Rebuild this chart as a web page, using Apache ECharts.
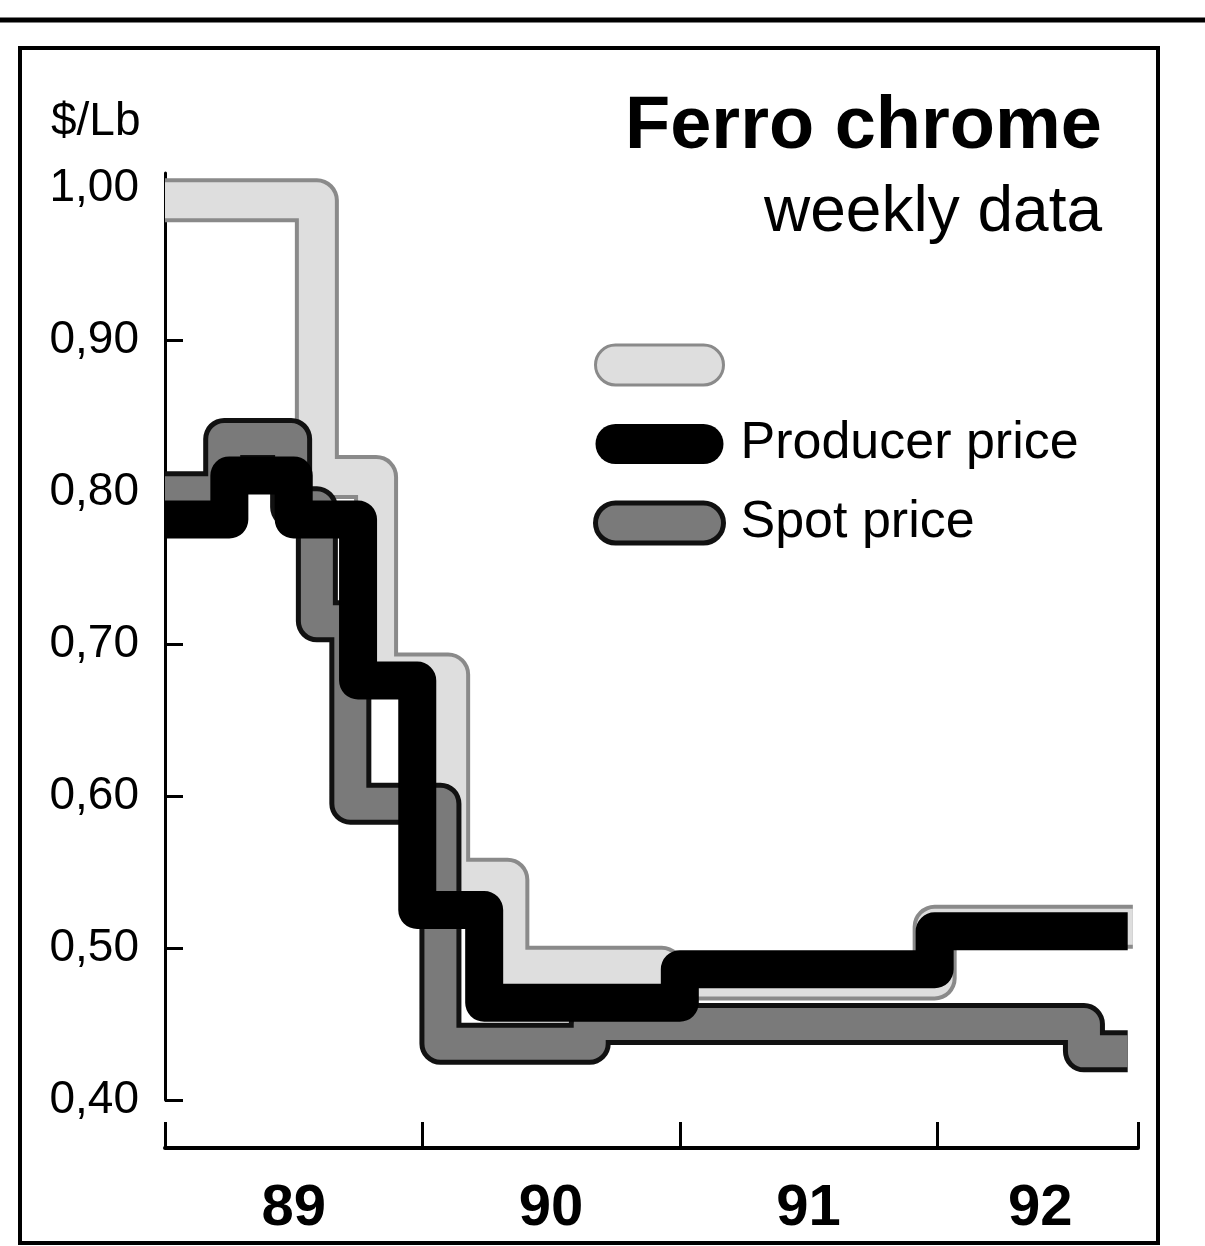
<!DOCTYPE html>
<html>
<head>
<meta charset="utf-8">
<script src="https://cdn.jsdelivr.net/npm/echarts@6/dist/echarts.min.js"></script>
<style>
  html, body { margin: 0; padding: 0; background: #fff; }
  #chart { width: 1205px; height: 1246px; }
</style>
</head>
<body>
<div id="chart"></div>
<script>
// axis ticks / labels
const yTicks = [0.40, 0.50, 0.60, 0.70, 0.80, 0.90, 1.00];
const yearTicks = [1989, 1990, 1991, 1992, 1992.78];
const yearLabels = ['89', '90', '91', '92'];
const yearLabelAt = [1989.5, 1990.5, 1991.5, 1992.4];

// producer price (step changes: start of period, $/Lb)
const producerX = [1989.00, 1989.25, 1989.50, 1989.75, 1989.98, 1990.24, 1991.00, 1991.99, 1992.74];
const producerY = [0.782, 0.811, 0.782, 0.676, 0.525, 0.464, 0.486, 0.511, 0.511];

// spot price
const spotX = [1989.00, 1989.23, 1989.49, 1989.59, 1989.72, 1990.07, 1990.65, 1992.57, 1992.74];
const spotY = [0.800, 0.835, 0.790, 0.715, 0.595, 0.437, 0.450, 0.432, 0.432];

// upper spot range (legend text lost in the original)
const rangeX = [1989.00, 1989.59, 1989.82, 1990.10, 1990.33, 1990.93, 1991.99, 1992.76];
const rangeY = [0.992, 0.810, 0.680, 0.545, 0.487, 0.480, 0.514, 0.514];

const zip = (xs, ys) => xs.map((x, i) => [x, ys[i]]);
const FONT = 'Liberation Sans, Arial, Helvetica, sans-serif';
const capsule = 'path://M20,0 H108 A20,20 0 0 1 108,40 H20 A20,20 0 0 1 20,0 Z';

function stepLine(name, data, color, width) {
  return {
    name: name,
    type: 'line',
    step: 'end',
    xAxisIndex: 0,
    yAxisIndex: 0,
    data: data,
    showSymbol: false,
    symbol: 'none',
    color: color,
    itemStyle: { color: color },
    lineStyle: { color: color, width: width, join: 'round', cap: 'butt' },
    emphasis: { disabled: true },
    silent: true
  };
}

const chart = echarts.init(document.getElementById('chart'));
const option = {
  animation: false,
  backgroundColor: '#fff',
  title: [
    { text: 'Ferro chrome', right: 98, top: 86,
      textStyle: { fontFamily: FONT, fontSize: 74, fontWeight: 'bold', color: '#000' } },
    { text: 'weekly data', right: 98, top: 176,
      textStyle: { fontFamily: FONT, fontSize: 64, fontWeight: 'normal', color: '#000' } },
    { text: '$/Lb', left: 46, top: 94,
      textStyle: { fontFamily: FONT, fontSize: 46, fontWeight: 'normal', color: '#000' } }
  ],
  legend: {
    orient: 'vertical',
    left: 588,
    top: 334,
    itemWidth: 128,
    itemHeight: 40,
    itemGap: 27,
    icon: capsule,
    selectedMode: false,
    textStyle: { fontFamily: FONT, fontSize: 52, color: '#000', padding: [0, 0, 0, 12] },
    data: [
      { name: ' ', itemStyle: { color: '#dedede', borderColor: '#8a8a8a', borderWidth: 3 } },
      { name: 'Producer price', itemStyle: { color: '#000' } },
      { name: 'Spot price', itemStyle: { color: '#7a7a7a', borderColor: '#111', borderWidth: 5 } }
    ]
  },
  grid: [
    { left: 165, right: 67, top: 173, bottom: 146 },
    { left: 165, right: 67, top: 1100, bottom: 98 }
  ],
  xAxis: [
    { gridIndex: 0, type: 'value', min: 1989, max: 1992.78, show: false },
    {
      gridIndex: 1, type: 'value', min: 1989, max: 1992.78, position: 'bottom',
      axisLine: { onZero: false, lineStyle: { color: '#000', width: 4 } },
      axisTick: { inside: true, length: 26, lineStyle: { color: '#000', width: 3 },
                  customValues: yearTicks },
      axisLabel: {
        customValues: yearLabelAt,
        margin: 32,
        fontFamily: FONT, fontSize: 58, fontWeight: 'bold', color: '#000',
        formatter: v => {
          const i = yearLabelAt.findIndex(p => Math.abs(p - v) < 1e-6);
          return i >= 0 ? yearLabels[i] : '';
        }
      },
      splitLine: { show: false }
    }
  ],
  yAxis: [
    {
      gridIndex: 0, type: 'value', min: 0.40, max: 1.01,
      axisLine: { show: true, onZero: false, lineStyle: { color: '#000', width: 3 } },
      axisTick: { show: true, inside: true, length: 18, lineStyle: { color: '#000', width: 3 },
                  customValues: yTicks },
      axisLabel: {
        customValues: yTicks,
        margin: 26,
        fontFamily: FONT, fontSize: 46, color: '#000',
        formatter: v => v.toFixed(2).replace('.', ',')
      },
      splitLine: { show: false }
    },
    { gridIndex: 1, type: 'value', min: 0, max: 1, show: false }
  ],
  series: [
    stepLine(' ', zip(rangeX, rangeY), '#8a8a8a', 44),
    stepLine('range inner', zip(rangeX, rangeY), '#dedede', 36),
    stepLine('Spot price', zip(spotX, spotY), '#111', 42),
    stepLine('spot inner', zip(spotX, spotY), '#7a7a7a', 32),
    stepLine('Producer price', zip(producerX, producerY), '#000', 38)
  ],
  graphic: [
    { type: 'rect', silent: true, z: 100,
      shape: { x: 20, y: 48, width: 1138, height: 1195 },
      style: { fill: 'none', stroke: '#000', lineWidth: 4 } },
    { type: 'line', silent: true, z: 100,
      shape: { x1: 0, y1: 20, x2: 1205, y2: 20 },
      style: { stroke: '#000', lineWidth: 5 } }
  ]
};
chart.setOption(option);
</script>
</body>
</html>
